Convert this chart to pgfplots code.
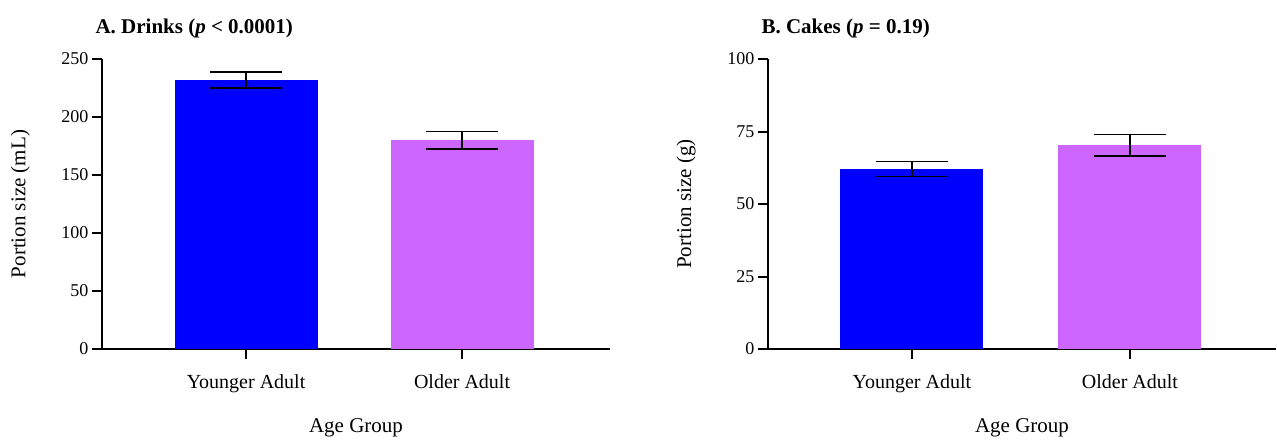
\documentclass[border=0pt]{standalone}
\usepackage{fontspec}
\setmainfont{Liberation Serif}
\usepackage{pgfplots}
\pgfplotsset{compat=1.18}

\definecolor{barblue}{RGB}{0,0,255}
\definecolor{barpurple}{RGB}{204,102,255}

\pgfplotsset{
  panel/.style={
    scale only axis, width=508pt, height=290pt,
    anchor=south west,
    axis x line*=bottom, axis y line*=left,
    axis line style={-, line width=2.2pt, black},
    tick align=outside, major tick length=10pt,
    tick style={line width=2pt, black},
    xtick={0,1}, xticklabels={Younger Adult, Older Adult},
    xmin=-0.667, xmax=1.685, ymin=0,
    ticklabel style={font=\fontsize{18}{20}\selectfont},
    xticklabel style={font=\fontsize{20}{22}\selectfont, yshift=-12pt},
    /pgf/number format/assume math mode=true,
    label style={font=\fontsize{21}{24}\selectfont},
    xlabel={Age Group},
    xlabel style={at={(axis description cs:0.5,-0.272)}, anchor=center},
    ylabel style={at={(axis description cs:-0.161,0.5)}, anchor=center},
    ybar, bar width=143pt, bar shift=0pt,
    error bars/y dir=both, error bars/y explicit,
    error bars/error mark options={rotate=90, line width=1.5pt, mark size=36pt, black},
    error bars/error bar style={line width=1.5pt, black},
  }
}

\begin{document}
\begin{tikzpicture}
\useasboundingbox (0pt,0pt) rectangle (1277pt,-442pt);

% panel A: drinks
\begin{axis}[panel, at={(102pt,-349pt)}, ymax=250, ytick={0,50,...,250},
  ylabel={Portion size (mL)}]
  \addplot[fill=barblue, draw=none] coordinates {(0,232) +- (0,7)};
  \addplot[fill=barpurple, draw=none] coordinates {(1,180) +- (0,7.5)};
\end{axis}
\node[anchor=base west, font=\fontsize{21}{24}\selectfont\bfseries] at (92pt,-33pt)
  {A. Drinks (\textit{p} < 0.0001)};

% panel B: cakes
\begin{axis}[panel, at={(768pt,-349pt)}, ymax=100, ytick={0,25,...,100},
  xmin=-0.66, xmax=1.67, ylabel={Portion size (g)}]
  \addplot[fill=barblue, draw=none] coordinates {(0,62) +- (0,2.6)};
  \addplot[fill=barpurple, draw=none] coordinates {(1,70.3) +- (0,3.7)};
\end{axis}
\node[anchor=base west, font=\fontsize{21}{24}\selectfont\bfseries] at (758pt,-33pt)
  {B. Cakes (\textit{p} = 0.19)};
\end{tikzpicture}
\end{document}
